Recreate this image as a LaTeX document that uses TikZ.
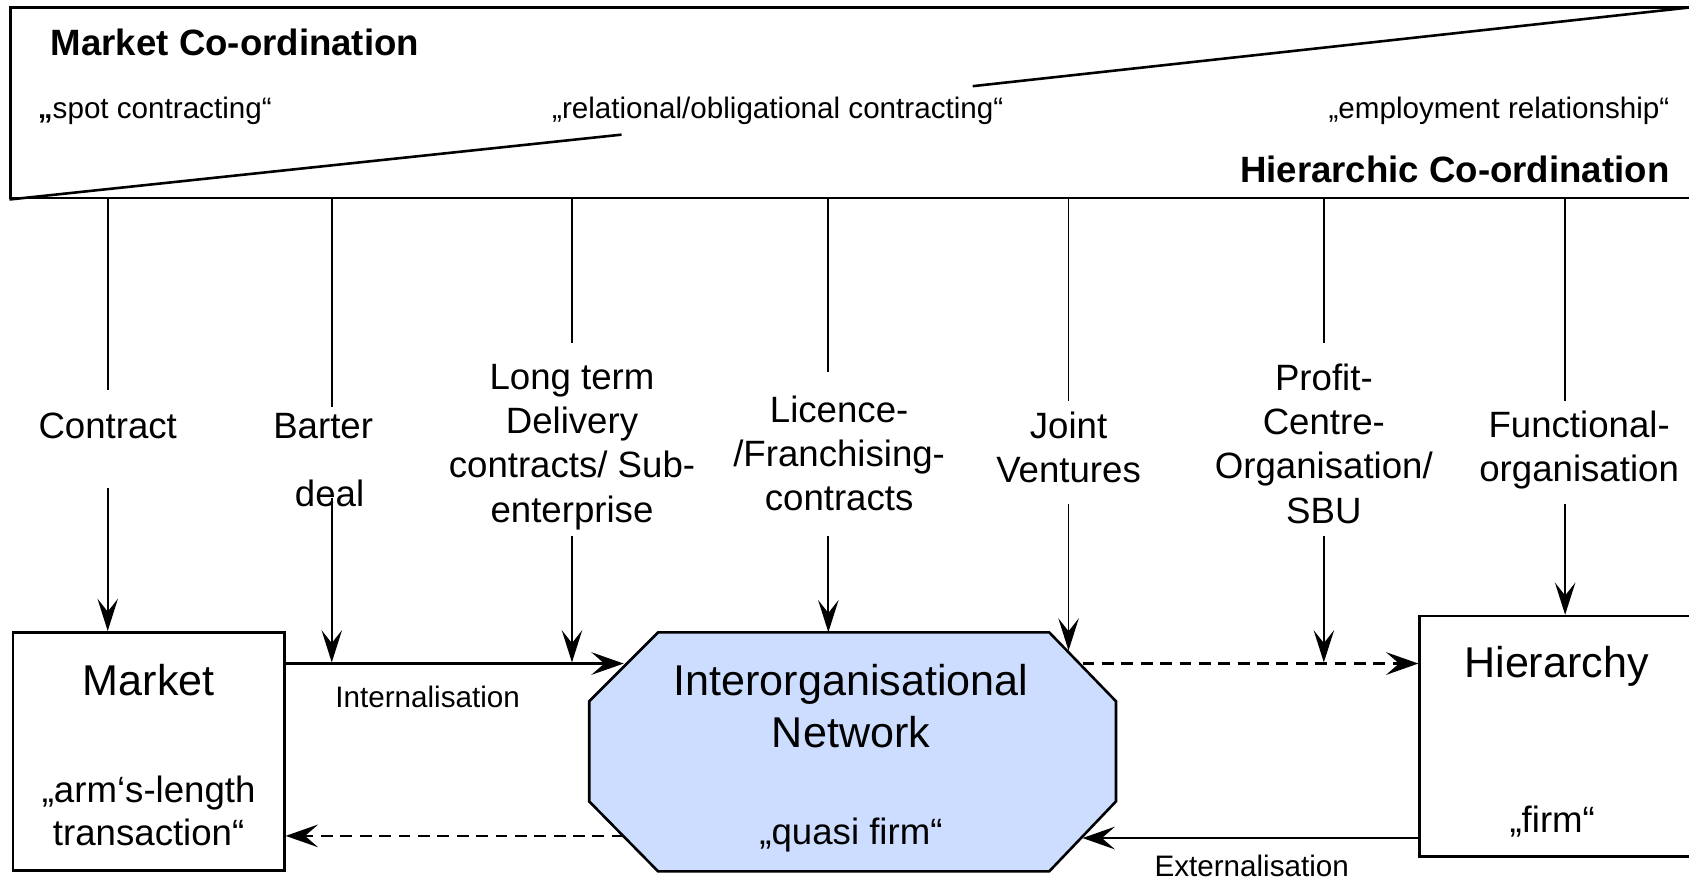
\documentclass[tikz,border=0pt]{standalone}
\usepackage{fontspec}
\setmainfont{Liberation Sans}
\usetikzlibrary{arrows.meta,calc}
\definecolor{netfill}{RGB}{204,221,255}
\begin{document}
\begin{tikzpicture}[x=1pt,y=-1pt,
  every node/.style={inner sep=0pt},
  frame/.style={draw,line width=2.4pt},
  box/.style={draw,line width=2.4pt},
  conn/.style={line width=1.7pt},
  arr/.style={line width=1.7pt,-{Stealth[length=30pt,width=19pt,inset=12pt]}},
  harr/.style={line width=2.4pt,-{Stealth[length=30pt,width=21pt,inset=12pt]}},
  dashline/.style={dash pattern=on 11pt off 7pt},
  big/.style={font=\fontsize{40}{49}\selectfont,align=center},
  mid/.style={font=\fontsize{34}{41}\selectfont,align=center},
  small/.style={font=\fontsize{27.5}{33}\selectfont},
  bigbold/.style={font=\fontsize{34}{40}\selectfont\bfseries}
]
\useasboundingbox (0,0) rectangle (1568,819);

% coordination band
\node[frame,minimum width=1570pt,minimum height=177pt] (band) at (795,95.5) {};
\coordinate (bandTR) at (1568,7);
\coordinate (diagA) at (577,125);
\coordinate (diagB) at (903,80);
\draw[line width=2.4pt] (band.south west) -- (diagA);
\draw[line width=2.4pt] (diagB) -- (bandTR);

\node[bigbold,anchor=west] (mc) at (47,39) {Market Co-ordination};
\node[small,anchor=west] (spot) at (35,103) {\textbf{„}spot contracting“};
\node[small] (rel) at (722,103) {„relational/obligational contracting“};
\node[small,anchor=east] (emp) at (1550,103) {„employment relationship“};
\node[bigbold,anchor=east] (hc) at (1550,157) {Hierarchic Co-ordination};

% the three forms of organisation
\node[box,minimum width=252pt,minimum height=221pt] (market) at (138,697.5) {};
\node[box,minimum width=257pt,minimum height=223pt] (hier) at (1446.5,683.5) {};
\node[minimum width=489pt,minimum height=222pt,outer sep=0pt] (net) at (791.5,698) {};
\draw[box,fill=netfill]
  ($(net.north west)+(64,0)$) -- ($(net.north east)+(-62,0)$) --
  ($(net.north east)+(0,64)$) -- ($(net.south east)+(0,-65)$) --
  ($(net.south east)+(-62,0)$) -- ($(net.south west)+(64,0)$) --
  ($(net.south west)+(0,-65)$) -- ($(net.north west)+(0,64)$) -- cycle;

\node[big] (mktT) at (138,631) {Market};
\node[mid,font=\fontsize{34}{40}\selectfont] (mktS) at (138,753) {„arm‘s-length\\transaction“};
\node[big] (netT) at (790,655.5) {Interorganisational\\Network};
\node[mid] (netS) at (790,775) {„quasi firm“};
\node[big] (hierT) at (1445,619) {Hierarchy};
\node[mid] (hierS) at (1441,763) {„firm“};

% intermediate forms
\node[mid] (lContract) at (100,395) {Contract};
\node[mid] (lBarter) at (300,396) {Barter};
\node[mid] (lDeal) at (306,458) {deal};
\node[mid] (lLong) at (531,415) {Long term\\Delivery\\contracts/ Sub-\\enterprise};
\node[mid] (lLic) at (779,421) {Licence-\\/Franchising-\\contracts};
\node[mid] (lJoint) at (992,415) {Joint\\Ventures};
\node[mid] (lProfit) at (1229,412) {Profit-\\Centre-\\Organisation/\\SBU};
\node[mid] (lFunc) at (1466,418) {Functional-\\organisation};

% attachment points on the connectors and the network outline
\coordinate (netIn) at (579,616);
\coordinate (netOutR) at (1005,616);
\coordinate (netOutL) at (579,776);
\coordinate (netInR) at (1005,778);
\coordinate (jvHit) at (992,604);

% transitions between the forms
\draw[harr] (market.east |- netIn) -- (netIn);
\node[small] (intl) at (397,647) {Internalisation};
\draw[harr,dashline] (netOutR) -- (hier.west |- netOutR);
\draw[harr,dashline] (netOutL) -- (market.east |- netOutL);
\draw[harr] (hier.west |- netInR) -- (netInR);
\node[small] (extl) at (1162,804) {Externalisation};

% vertical links from the band to the forms
\coordinate (a1) at (100,362); \coordinate (a2) at (100,453);
\draw[conn] (band.south -| a1) -- (a1);
\draw[arr] (a2) -- (market.north -| a2);

\coordinate (b1) at (308,378); \coordinate (b2) at (308,462);
\draw[conn] (band.south -| b1) -- (b1);
\draw[arr] (b2) -- ([yshift=1pt]b2 |- netIn);

\coordinate (c1) at (531,318); \coordinate (c2) at (531,498);
\draw[conn] (band.south -| c1) -- (c1);
\draw[arr] (c2) -- ([yshift=1pt]c2 |- netIn);

\coordinate (d1) at (769,345); \coordinate (d2) at (769,498);
\draw[conn] (band.south -| d1) -- (d1);
\draw[arr] (d2) -- (net.north -| d2);

\coordinate (e1) at (992,372); \coordinate (e2) at (992,468);
\draw[conn] (band.south -| e1) -- (e1);
\draw[arr] (e2) -- (jvHit);

\coordinate (f1) at (1229,318); \coordinate (f2) at (1229,498);
\draw[conn] (band.south -| f1) -- (f1);
\draw[arr] (f2) -- ([yshift=1pt]f2 |- netOutR);

\coordinate (g1) at (1453,372); \coordinate (g2) at (1453,468);
\draw[conn] (band.south -| g1) -- (g1);
\draw[arr] (g2) -- (hier.north -| g2);
\end{tikzpicture}
\end{document}
